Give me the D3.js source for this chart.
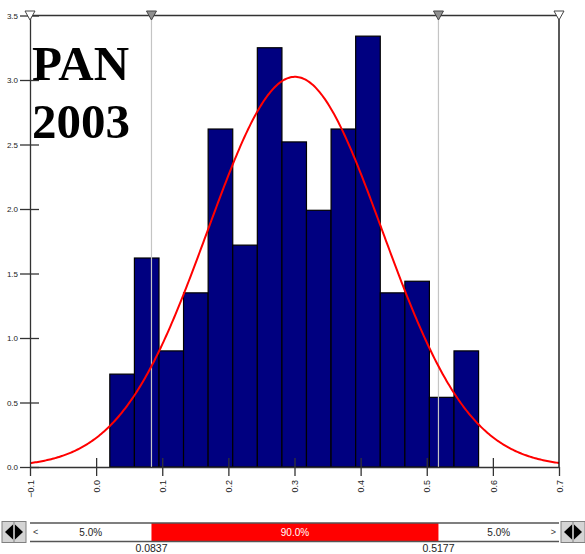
<!DOCTYPE html>
<html>
<head>
<meta charset="utf-8">
<script src="https://cdn.jsdelivr.net/npm/d3@7"></script>
<style>
  html, body { margin: 0; padding: 0; background: #fff; }
  svg { display: block; }
</style>
</head>
<body>
<svg id="chart" width="585" height="554"></svg>
<script>
// ---- data ----
const titleLines = ["PAN", "2003"];
const binEdges = [0.0207, 0.0579, 0.0951, 0.1322, 0.1694, 0.2066, 0.2438, 0.2810,
                  0.3181, 0.3553, 0.3925, 0.4297, 0.4669, 0.5040, 0.5412, 0.5784];
const densities = [0.72, 1.62, 0.90, 1.35, 2.62, 1.72, 3.25, 2.52,
                   1.99, 2.62, 3.34, 1.35, 1.44, 0.54, 0.90];
const xTicks = [-0.1, 0.0, 0.1, 0.2, 0.3, 0.4, 0.5, 0.6, 0.7];
const yTicks = [0.0, 0.5, 1.0, 1.5, 2.0, 2.5, 3.0, 3.5];
const fitMean = 0.3007;
const fitSd = 0.1319;
const lowerMark = 0.0837;
const upperMark = 0.5177;
const pctLabels = ["5.0%", "90.0%", "5.0%"];

// ---- chart ----
const svg = d3.select("#chart");
const pL = 30, pR = 559, pT = 15.5, pB = 467;
const x = d3.scaleLinear().domain([-0.1, 0.7]).range([pL, pR]);
const y = d3.scaleLinear().domain([0, 3.5]).range([pB, pT]);
const axisColor = "#333";
const sans = "Liberation Sans, Arial, sans-serif";

// bars
const bars = densities.map((d, i) => ({x0: binEdges[i], x1: binEdges[i + 1], v: d}));
svg.append("g").selectAll("rect").data(bars).join("rect")
  .attr("x", d => x(d.x0))
  .attr("y", d => y(d.v))
  .attr("width", d => x(d.x1) - x(d.x0))
  .attr("height", d => y(0) - y(d.v))
  .attr("fill", "#000080")
  .attr("stroke", "#000")
  .attr("stroke-width", 1.2);

// marker lines
svg.append("g").selectAll("line").data([lowerMark, upperMark]).join("line")
  .attr("x1", d => x(d)).attr("x2", d => x(d))
  .attr("y1", pT).attr("y2", pB)
  .attr("stroke", "#c4c4c4").attr("stroke-width", 1.2);

// fitted normal curve
const pdf = v => Math.exp(-0.5 * Math.pow((v - fitMean) / fitSd, 2)) / (fitSd * Math.sqrt(2 * Math.PI));
const curveX = d3.range(-0.1, 0.7001, 0.002);
svg.append("path")
  .datum(curveX)
  .attr("d", d3.line().x(d => x(d)).y(d => y(pdf(d))))
  .attr("fill", "none")
  .attr("stroke", "#ff0000")
  .attr("stroke-width", 2);

// frame lines
svg.append("line").attr("x1", pL).attr("x2", pR).attr("y1", pT).attr("y2", pT)
  .attr("stroke", axisColor).attr("stroke-width", 1.3);
svg.append("line").attr("x1", pR).attr("x2", pR).attr("y1", pT).attr("y2", pB)
  .attr("stroke", "#000").attr("stroke-width", 1.3);

// y axis
const yAxis = d3.axisLeft(y).tickValues(yTicks).tickFormat(d3.format(".1f"))
  .tickSizeInner(10).tickSizeOuter(0).tickPadding(2);
const gy = svg.append("g").attr("transform", `translate(${pL},0)`).call(yAxis);
gy.select(".domain").attr("stroke", axisColor).attr("stroke-width", 1.3);
gy.selectAll(".tick line").attr("stroke", axisColor).attr("stroke-width", 1.3)
  .attr("x2", -10).attr("x1", 9);
gy.selectAll(".tick text").attr("font-family", sans)
  .attr("font-size", 8).attr("fill", "#222").attr("dy", "0.35em");

// x axis
const xAxis = d3.axisBottom(x).tickValues(xTicks).tickFormat(d3.format(".1f"))
  .tickSizeInner(9).tickSizeOuter(0).tickPadding(0);
const gx = svg.append("g").attr("transform", `translate(0,${pB})`).call(xAxis);
gx.select(".domain").attr("stroke", axisColor).attr("stroke-width", 1.3);
gx.selectAll(".tick line").attr("stroke", axisColor).attr("stroke-width", 1.3)
  .attr("y1", d => (d > -0.1 && d < 0.7) ? -9 : 0).attr("y2", 9);
gx.selectAll(".tick text")
  .attr("font-family", sans)
  .attr("font-size", 9).attr("fill", "#222")
  .attr("text-anchor", "end")
  .attr("transform", "translate(0,13) rotate(-90)")
  .attr("x", 0).attr("y", 0).attr("dy", "0.35em");

// top triangles
const tri = [
  {v: -0.1, fill: "#fff"}, {v: lowerMark, fill: "#909090"},
  {v: upperMark, fill: "#909090"}, {v: 0.7, fill: "#fff"}
];
svg.append("g").selectAll("path").data(tri).join("path")
  .attr("d", d => `M${x(d.v) - 5},${pT - 4.5} L${x(d.v) + 5},${pT - 4.5} L${x(d.v)},${pT + 4.5} Z`)
  .attr("fill", d => d.fill).attr("stroke", "#444").attr("stroke-width", 1);

// title
const title = svg.append("text")
  .attr("font-family", "Liberation Serif, Times New Roman, serif")
  .attr("font-weight", "bold").attr("font-size", 49).attr("fill", "#000");
title.selectAll("tspan").data(titleLines).join("tspan")
  .attr("x", 32).attr("y", (d, i) => 80 + i * 58).text(d => d);

// bottom percentile bar
const barTop = 523, barBot = 541.5;
svg.append("rect").attr("x", x(lowerMark)).attr("y", barTop)
  .attr("width", x(upperMark) - x(lowerMark)).attr("height", barBot - barTop)
  .attr("fill", "#ff0000");
[barTop, barBot].forEach(yy => {
  svg.append("line").attr("x1", pL).attr("x2", pR).attr("y1", yy).attr("y2", yy)
    .attr("stroke", "#555").attr("stroke-width", 1.3);
});
const segs = [
  {a: -0.1, b: lowerMark, t: pctLabels[0], c: "#222"},
  {a: lowerMark, b: upperMark, t: pctLabels[1], c: "#fff"},
  {a: upperMark, b: 0.7, t: pctLabels[2], c: "#222"}
];
svg.append("g").selectAll("text").data(segs).join("text")
  .attr("x", d => (x(d.a) + x(d.b)) / 2).attr("y", (barTop + barBot) / 2)
  .attr("dy", "0.35em").attr("text-anchor", "middle")
  .attr("font-family", sans).attr("font-size", 10)
  .attr("fill", d => d.c).text(d => d.t);
svg.append("text").attr("x", pL + 3).attr("y", (barTop + barBot) / 2).attr("dy", "0.35em")
  .attr("font-family", sans).attr("font-size", 9).attr("fill", "#333").text("<");
svg.append("text").attr("x", pR - 3).attr("y", (barTop + barBot) / 2).attr("dy", "0.35em")
  .attr("text-anchor", "end")
  .attr("font-family", sans).attr("font-size", 9).attr("fill", "#333").text(">");
svg.append("g").selectAll("text").data([lowerMark, upperMark]).join("text")
  .attr("x", d => x(d)).attr("y", 552).attr("text-anchor", "middle")
  .attr("font-family", sans).attr("font-size", 10.5)
  .attr("fill", "#222").text(d => d3.format(".4f")(d));

// scroll buttons
function button(x0) {
  const g = svg.append("g");
  g.append("rect").attr("x", x0).attr("y", 521.5).attr("width", 24).attr("height", 21)
    .attr("fill", "#d4d4d4").attr("stroke", "#808080").attr("stroke-width", 1);
  g.append("line").attr("x1", x0 + 12).attr("x2", x0 + 12).attr("y1", 522).attr("y2", 542)
    .attr("stroke", "#808080");
  g.append("path").attr("d", `M${x0 + 3},532 L${x0 + 11},524.5 L${x0 + 11},539.5 Z`).attr("fill", "#000");
  g.append("path").attr("d", `M${x0 + 21},532 L${x0 + 13},524.5 L${x0 + 13},539.5 Z`).attr("fill", "#000");
}
button(2);
button(561);
</script>
</body>
</html>
